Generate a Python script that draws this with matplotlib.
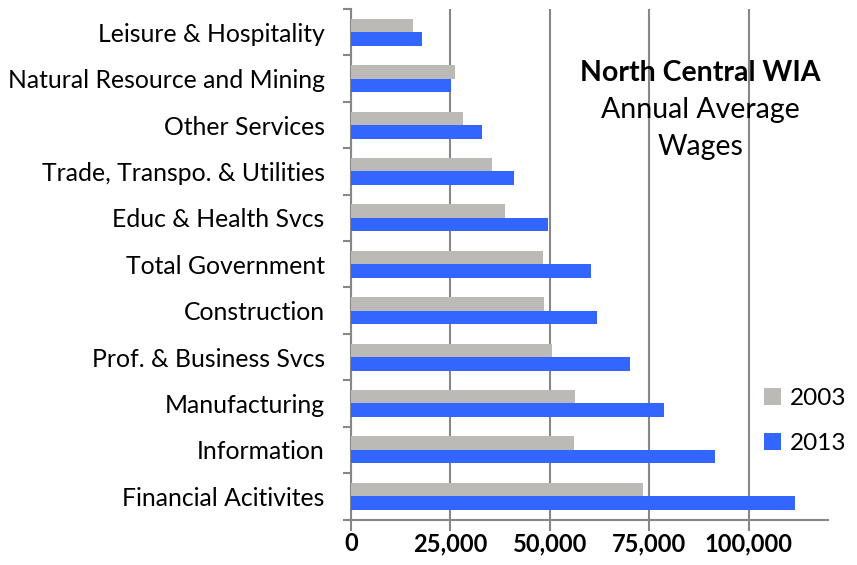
import numpy as np
import matplotlib.pyplot as plt
from matplotlib.ticker import FuncFormatter

# data (top to bottom as shown)
industries = ['Leisure & Hospitality', 'Natural Resource and Mining', 'Other Services',
              'Trade, Transpo. & Utilities', 'Educ & Health Svcs', 'Total Government',
              'Construction', 'Prof. & Business Svcs', 'Manufacturing', 'Information',
              'Financial Acitivites']
wages_2003 = [15600, 26100, 28100, 35500, 38800, 48200, 48500, 50500, 56400, 56200, 73500]
wages_2013 = [17900, 25200, 33000, 40900, 49600, 60300, 61800, 70300, 78700, 91500, 111600]
years = ['2003', '2013']

gray = '#BCBAB6'
blue = '#3366FF'
axis_col = '#878787'

plt.rcParams['font.family'] = ['Lato', 'DejaVu Sans']

fig = plt.figure(figsize=(8.57, 5.65), dpi=100)
ax = fig.add_axes([0.4096, 0.0805, 0.5566, 0.9035])

y = np.arange(len(industries))
h = 0.29
ax.barh(y - h / 2, wages_2003, height=h, color=gray, label=years[0], zorder=3)
ax.barh(y + h / 2, wages_2013, height=h, color=blue, label=years[1], zorder=3)

ax.set_xlim(0, 120000)
ax.set_ylim(len(industries) - 0.5, -0.5)

ax.set_xticks([0, 25000, 50000, 75000, 100000])
ax.xaxis.set_major_formatter(FuncFormatter(lambda v, p: f'{int(v):,}'))
ax.grid(axis='x', color=axis_col, lw=1.5, zorder=1)

ax.set_yticks(y)
ax.set_yticklabels(industries, fontsize=17.8)
ax.set_yticks(np.arange(len(industries) + 1) - 0.5, minor=True)
ax.tick_params(axis='y', which='major', length=0, pad=19)
ax.tick_params(axis='y', which='minor', length=6, width=1.5, color=axis_col)
ax.tick_params(axis='x', length=8, width=1.5, color=axis_col, pad=1, labelsize=17)
for lbl in ax.get_xticklabels():
    lbl.set_fontweight('bold')

for s in ['top', 'right']:
    ax.spines[s].set_visible(False)
for s in ['left', 'bottom']:
    ax.spines[s].set_color(axis_col)
    ax.spines[s].set_linewidth(1.5)

# title block inside plot
fig.text(700 / 857, 1 - 73 / 565, 'North Central WIA', ha='center', va='center',
         fontsize=20.5, fontweight='bold')
fig.text(700 / 857, 1 - 110 / 565, 'Annual Average', ha='center', va='center', fontsize=20.5)
fig.text(700 / 857, 1 - 147 / 565, 'Wages', ha='center', va='center', fontsize=20.5)

ax.legend(loc='center left', bbox_to_anchor=(764 / 857, 1 - 421 / 565),
          bbox_transform=fig.transFigure, frameon=False, fontsize=17.5,
          borderpad=0, borderaxespad=0,
          handlelength=0.68, handleheight=0.68, handletextpad=0.4, labelspacing=1.0)

fig.savefig('out.png', dpi=100)
